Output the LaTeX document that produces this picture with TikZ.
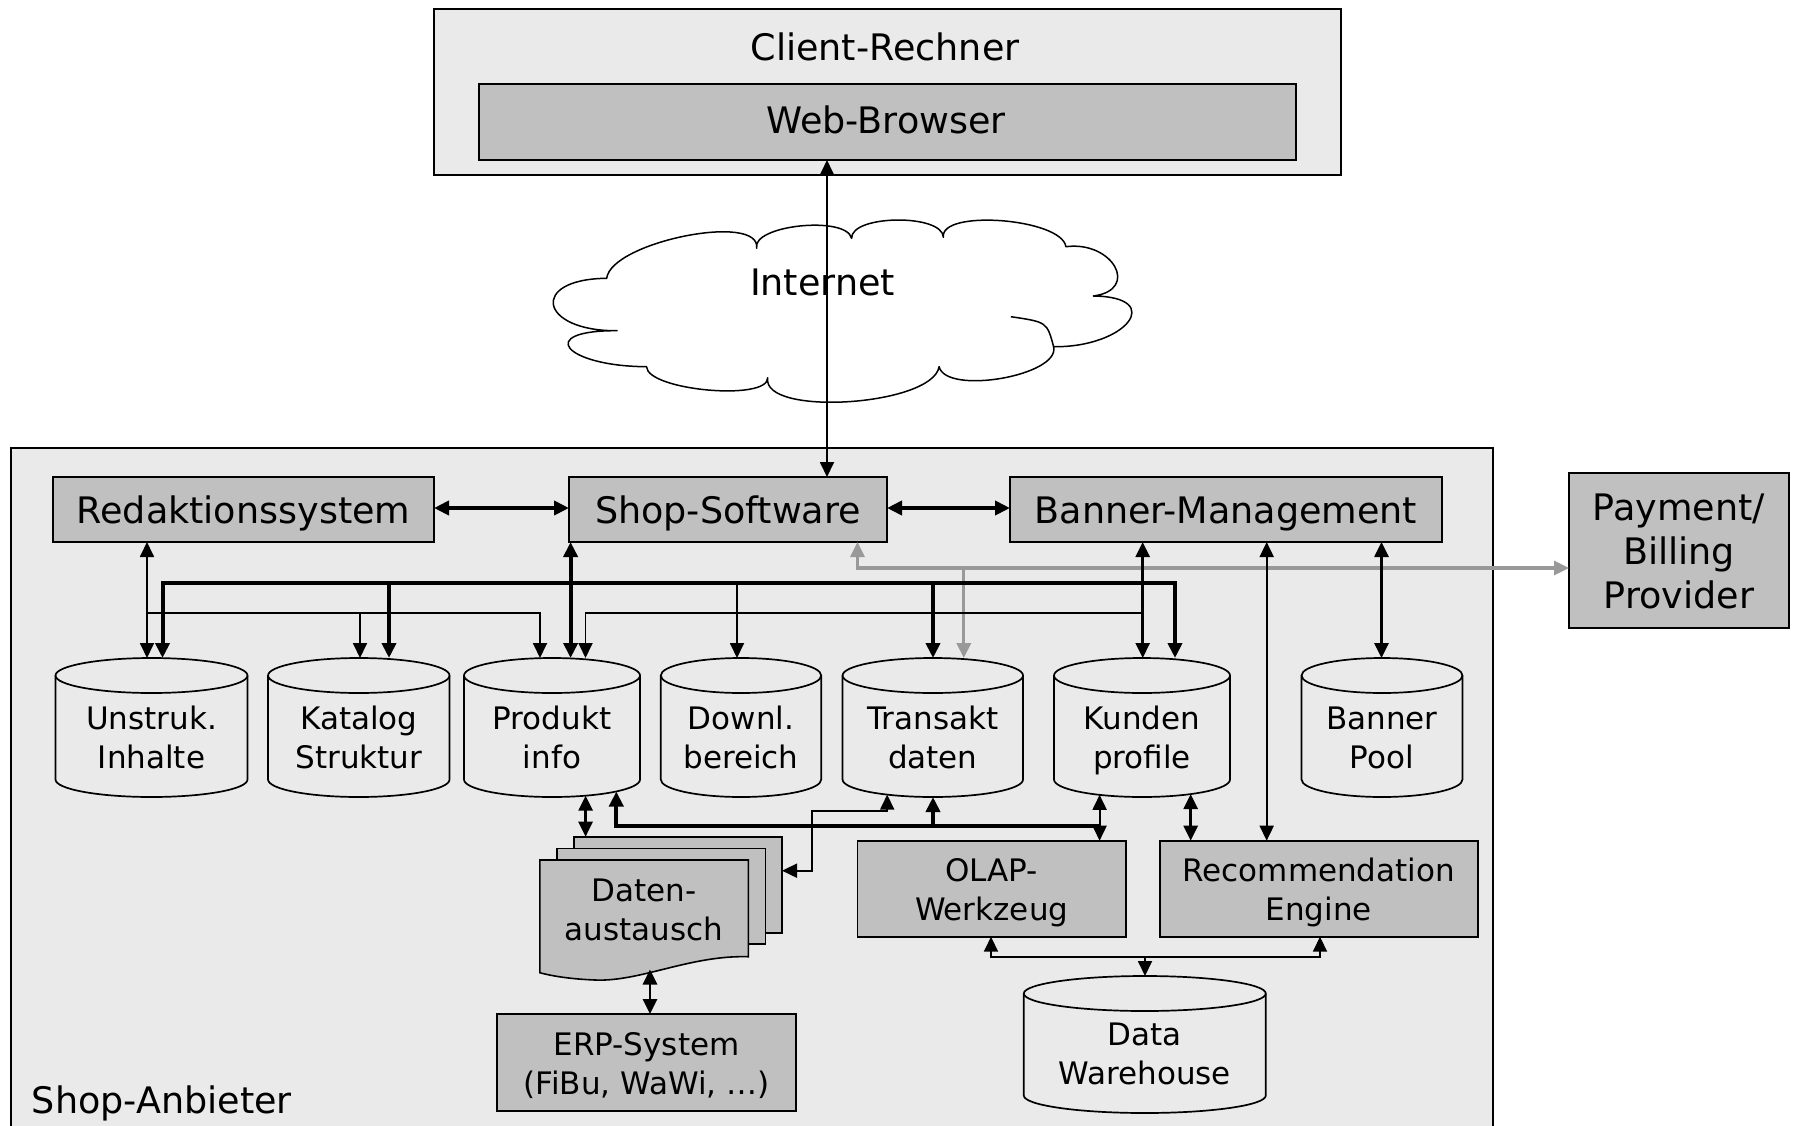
\documentclass[tikz,border=0pt]{standalone}
\usepackage{fontspec}
\setmainfont{DejaVu Sans}
\usetikzlibrary{arrows.meta}

\definecolor{panelgray}{RGB}{234,234,234}
\definecolor{unitgray}{RGB}{192,192,192}
\definecolor{paygray}{RGB}{153,153,153}

\tikzset{
  bigtext/.style={font=\fontsize{36.5pt}{44pt}\selectfont, align=center, anchor=base, inner sep=0pt},
  smalltext/.style={font=\fontsize{31pt}{38.5pt}\selectfont, align=center, anchor=base, inner sep=0pt},
  panel/.style={draw, line width=1.8pt, fill=panelgray, inner sep=0pt, outer sep=0pt},
  unit/.style={draw, line width=1.6pt, fill=unitgray, inner sep=0pt, outer sep=0pt},
  dbbody/.style={inner sep=0pt, outer sep=0pt, minimum height=139pt},
  dbline/.style={draw, line width=1.7pt, fill=panelgray},
  cloudline/.style={draw, line width=1.5pt, line join=round},
  thinlink/.style={line width=1.8pt},
  midlink/.style={line width=2.7pt},
  thicklink/.style={line width=4pt},
  paylink/.style={line width=3.2pt, draw=paygray},
  >={Triangle[length=15pt,width=14pt]},
}

% database cylinder drawn around an empty node #1 with half width #2
\newcommand\dbshape[2]{%
  \path[dbline] ([yshift=-17.5pt]#1.north west) -- ([yshift=17.5pt]#1.south west)
    arc[start angle=180, end angle=360, x radius=#2pt, y radius=17.5pt]
    -- ([yshift=-17.5pt]#1.north east)
    arc[start angle=0, end angle=180, x radius=#2pt, y radius=17.5pt] -- cycle;
  \draw[line width=1.7pt] ([yshift=-17.5pt]#1.north west)
    arc[start angle=180, end angle=360, x radius=#2pt, y radius=17.5pt];
}

\begin{document}
\begin{tikzpicture}[x=1pt,y=-1pt]
\useasboundingbox (0,0) rectangle (1794,1125);
\fill[white] (0,0) rectangle (1794,1125);

% client side
\node[panel, minimum width=907pt, minimum height=166pt] (client) at (887.5,92) {};
\node[unit, minimum width=817pt, minimum height=76pt] (browser) at (887.5,122) {};
\node[bigtext] (client-t) at (885,60.7) {Client-Rechner};
\node[bigtext] (browser-t) at (886,133.3) {Web-Browser};

% network cloud, built from eleven puffs
\path[cloudline, fill=white] (606.7,278.3)
  .. controls (611.1,241.9) and (761.1,211.9) .. (756.7,248.3)
  .. controls (751.2,225.2) and (846.1,215.2) .. (851.6,238.3)
  .. controls (850.9,214.6) and (942.7,213.6) .. (943.4,237.3)
  .. controls (939.3,208.9) and (1061.8,218.3) .. (1065.9,246.7)
  .. controls (1112.8,240.5) and (1140.3,289.8) .. (1093.4,296)
  .. controls (1166.1,296.9) and (1126.3,347.6) .. (1053.6,346.7)
  .. controls (1060.6,375.5) and (946.1,395.5) .. (939.1,366.7)
  .. controls (932.6,406) and (761.2,417) .. (767.7,377.7)
  .. controls (768.5,401.4) and (647.3,390.4) .. (646.5,366.7)
  .. controls (564.1,366.2) and (534.7,330.2) .. (617.1,330.7)
  .. controls (539.2,331.4) and (528.8,279) .. (606.7,278.3) -- cycle;
\path[cloudline] (1053.6,346.7) .. controls (1047,322) .. (1010.8,316.7);
\node[bigtext] (inet) at (822.5,295) {Internet};

% provider side
\node[panel, minimum width=1482pt, minimum height=700pt] (anbieter) at (752,798) {};
\node[bigtext, anchor=base west] (anbieter-t) at (31.7,1113.3) {Shop-Anbieter};

\node[unit, minimum width=381pt, minimum height=65pt] (redak) at (243.5,509.5) {};
\node[unit, minimum width=318pt, minimum height=65pt] (shop) at (728,509.5) {};
\node[unit, minimum width=432pt, minimum height=65pt] (banner) at (1226,509.5) {};
\node[unit, minimum width=220pt, minimum height=155pt] (payment) at (1679,550.5) {};
\node[bigtext] (redak-t) at (243.5,523.3) {Redaktionssystem};
\node[bigtext] (shop-t) at (728,523.3) {Shop-Software};
\node[bigtext] (banner-t) at (1226,523.3) {Banner-Management};
\node[bigtext] (payment-t) at (1679,608.3) {Payment/\\Billing\\Provider};

% databases
\node[dbbody, minimum width=192pt] (uns) at (151.5,727.5) {};
\node[dbbody, minimum width=181.5pt] (kat) at (358.8,727.5) {};
\node[dbbody, minimum width=176pt] (prod) at (552,727.5) {};
\node[dbbody, minimum width=160.5pt] (down) at (741,727.5) {};
\node[dbbody, minimum width=180.5pt] (trans) at (932.8,727.5) {};
\node[dbbody, minimum width=176pt] (kun) at (1142,727.5) {};
\node[dbbody, minimum width=161pt] (bpool) at (1382,727.5) {};
\node[dbbody, minimum width=242pt, minimum height=137pt] (dw) at (1144.8,1044.5) {};
\dbshape{uns}{96}
\dbshape{kat}{90.75}
\dbshape{prod}{88}
\dbshape{down}{80.25}
\dbshape{trans}{90.25}
\dbshape{kun}{88}
\dbshape{bpool}{80.5}
\dbshape{dw}{121}
\node[smalltext] (uns-t) at (151.5,768.3) {Unstruk.\\Inhalte};
\node[smalltext] (kat-t) at (358.8,768.3) {Katalog\\Struktur};
\node[smalltext] (prod-t) at (552,768.3) {Produkt\\info};
\node[smalltext] (down-t) at (741,768.3) {Downl.\\bereich};
\node[smalltext] (trans-t) at (932.8,768.3) {Transakt\\daten};
\node[smalltext] (kun-t) at (1142,768.3) {Kunden\\profile};
\node[smalltext] (bpool-t) at (1382,768.3) {Banner\\Pool};
\node[smalltext] (dw-t) at (1144.8,1084) {Data\\Warehouse};

% data exchange documents
\node[unit, minimum width=208pt, minimum height=96pt] (datback) at (678,884.7) {};
\node[unit, minimum width=208.7pt, minimum height=95.7pt] (datmid) at (661.15,896.15) {};
\path[unit] (539.8,860) -- (748.3,860) -- (748.3,956.7)
  .. controls (690,955) and (640,982) .. (595,980)
  .. controls (570,979) and (552,976) .. (539.8,972.7) -- cycle;
\node[smalltext] (dat-t) at (643.8,940) {Daten-\\austausch};

% back-office systems
\node[unit, minimum width=299pt, minimum height=96.7pt] (erp) at (646.5,1062.35) {};
\node[unit, minimum width=268.5pt, minimum height=96pt] (olap) at (991.75,888.7) {};
\node[unit, minimum width=317.7pt, minimum height=96pt] (rec) at (1318.85,888.7) {};
\node[smalltext] (erp-t) at (646.5,1094.3) {ERP-System\\(FiBu, WaWi, …)};
\node[smalltext] (olap-t) at (991.7,920) {OLAP-\\Werkzeug};
\node[smalltext] (rec-t) at (1318.8,920) {Recommendation\\Engine};

% points on curved database bottoms and document edges
\coordinate (prod-b1) at (585.6,795.7);
\coordinate (prod-b2) at (616.3,791.5);
\coordinate (trans-b1) at (887.2,794.6);
\coordinate (kun-b1) at (1099.6,794.8);
\coordinate (kun-b2) at (1190.7,794);
\coordinate (dat-b) at (650,969.5);
\coordinate (tbus) at (147,613);

% payment flow
\draw[paylink,<->] (shop.south -| 857.5,0) |- (payment.west |- 0,568);
\draw[paylink,->] (963.8,568) -- (trans.north -| 963.8,0);

% internet link
\draw[thinlink,<->] (browser.south -| 827,0) -- (shop.north -| 827,0);

% top row links
\draw[thicklink,<->] (redak.east |- 0,508) -- (shop.west |- 0,508);
\draw[thicklink,<->] (shop.east |- 0,508) -- (banner.west |- 0,508);

% content management links
\draw[thinlink,<->] (redak.south -| tbus) -- (uns.north -| tbus);
\draw[thinlink,->] (tbus) -| (prod.north -| 540,0);
\draw[thinlink,->] (tbus -| 360,0) -- (kat.north -| 360,0);

% shop software bus
\draw[thicklink,<->] (shop.south -| 570.6,0) -- (prod.north -| 570.6,0);
\draw[thicklink,<->] (uns.north -| 162.5,0) |- (1175,583) -- (kun.north -| 1175,0);
\draw[thicklink,->] (389,583) -- (kat.north -| 389,0);
\draw[thinlink,->] (737,583) -- (down.north -| 737,0);
\draw[thicklink,->] (933,583) -- (trans.north -| 933,0);

% banner management links
\draw[midlink,<->] (banner.south -| 1142.7,0) -- (kun.north -| 1142.7,0);
\draw[thinlink,->] (1143.5,613) -| (prod.north -| 585.5,0);
\draw[thinlink,<->] (banner.south -| 1266.7,0) -- (rec.north -| 1266.7,0);
\draw[midlink,<->] (banner.south -| 1381.5,0) -- (bpool.north -| 1381.5,0);

% lower links
\draw[midlink,<->] (prod-b1) -- (datback.north -| prod-b1);
\draw[thicklink,<-] (prod-b2) |- (1099.6,825.5);
\draw[thicklink,->] (933,825.5) -- (trans.south -| 933,0);
\draw[thinlink,<->] (kun-b1) -- (olap.north -| kun-b1);
\draw[thinlink,<->] (datback.east |- 0,870.7) -| (811.8,810.7) -| (trans-b1);
\draw[midlink,<->] (dat-b) -- (erp.north -| dat-b);
\draw[midlink,<->] (kun-b2) -- (rec.north -| kun-b2);
\draw[thinlink,<->] (olap.south -| 991,0) |- (1320,956.7) -- (rec.south -| 1320,0);
\draw[thinlink,->] (1145,956.7) -- (dw.north -| 1145,0);
\end{tikzpicture}
\end{document}
